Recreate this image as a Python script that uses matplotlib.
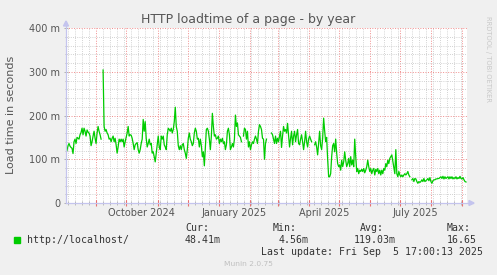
import numpy as np
import matplotlib
matplotlib.use('Agg')
import matplotlib.pyplot as plt
import matplotlib.dates as mdates
from matplotlib.ticker import MultipleLocator, FixedLocator
from matplotlib.lines import Line2D
from matplotlib.patches import Polygon, Rectangle
from datetime import datetime, timedelta

W, H = 497, 275

title = 'HTTP loadtime of a page - by year'
ylabel = 'Load time in seconds'
series_name = 'http://localhost/'
start = datetime(2024, 8, 1, 17, 0, 13)
end = datetime(2025, 9, 5, 17, 0, 13)

# load time samples in milliseconds, one per day; each segment starts at a day offset
seg1_start = 1
seg1 = [120, 131, 136, 130, 127, 125, 113, 140, 146, 136,
        150, 148, 146, 156, 161, 171, 156, 171, 164, 153,
        167, 162, 160, 153, 131, 140, 153, 164, 148, 136,
        160, 175, 164, 156, 146]
seg2_start = 37
seg2 = [304, 175, 164, 168, 160, 156, 146, 148, 140, 148,
        153, 140, 148, 133, 114, 128, 146, 140, 146, 140,
        146, 128, 140, 150, 160, 175, 153, 156, 155, 148,
        136, 122, 133, 136, 138, 122, 114, 122, 136, 146,
        191, 164, 186, 148, 128, 136, 146, 133, 136, 114,
        117, 106, 94, 114, 136, 153, 128, 122, 153, 146,
        153, 133, 128, 122, 156, 171, 168, 164, 171, 160,
        168, 186, 219, 175, 164, 131, 122, 131, 122, 133,
        136, 122, 114, 102, 122, 148, 160, 146, 140, 131,
        136, 160, 171, 164, 146, 148, 128, 146, 131, 106,
        117, 85, 128, 168, 171, 164, 146, 122, 153, 205,
        175, 153, 156, 146, 148, 153, 136, 146, 140, 148,
        136, 140, 122, 133, 164, 171, 156, 122, 128, 136,
        128, 146, 201, 175, 183, 156, 153, 150, 140]
seg3_start = 177
seg3 = [153, 171, 168, 146, 164, 128, 140, 122, 133, 140,
        136, 146, 153, 146, 136, 164, 179, 175, 168, 148,
        146, 100, 136, 146]
seg4_start = 205
seg4 = [160, 156, 146, 136, 153, 136, 148, 140, 153, 164,
        127, 153, 175, 164, 168, 160, 182, 156, 128, 148,
        164, 133, 153, 164, 140, 156, 168, 136, 133, 146,
        156, 140, 122, 140, 164, 140, 128, 146, 153, 146, 140]
seg5_start = 248
seg5 = [133, 140, 128, 110, 136, 164, 131, 122, 148, 194,
        165, 140, 150, 100, 60, 60, 67, 106, 131, 136,
        117, 146, 114, 90, 83, 87, 75, 98, 83, 94,
        117, 98, 83, 90, 102, 83, 106, 87, 98, 83,
        146, 106, 72, 79, 67, 75, 72, 77, 72, 79,
        69, 75, 83, 98, 83, 72, 79, 67, 75, 79,
        64, 77, 72, 79, 67, 75, 64, 75, 67, 79,
        75, 90, 83, 98, 90, 102, 106, 110, 96, 83,
        67, 122, 67, 60, 72, 64, 60, 64, 60, 64,
        67, 64, 67, 72, 64, 60]
seg6_start = 345
seg6 = [53, 56, 49, 56, 55, 49, 45, 49, 47, 49,
        53, 49, 56, 49, 51, 53, 56, 51, 58, 49,
        45, 51, 53, 53, 55, 55, 56, 56, 58, 60,
        56, 61, 55, 60, 56, 58, 60, 55, 60, 56,
        60, 55, 58, 56, 60, 55, 58, 56, 61, 56,
        55, 58, 53, 49, 48]

segments = [(seg1_start, seg1), (seg2_start, seg2), (seg3_start, seg3),
            (seg4_start, seg4), (seg5_start, seg5), (seg6_start, seg6)]

y_ticks = [0, 100, 200, 300, 400]
y_tick_labels = ['0', '100 m', '200 m', '300 m', '400 m']
x_label_dates = [datetime(2024, 10, 16), datetime(2025, 1, 16),
                 datetime(2025, 4, 16), datetime(2025, 7, 16)]
x_labels = ['October 2024', 'January 2025', 'April 2025', 'July 2025']

legend_headers = ['Cur:', 'Min:', 'Avg:', 'Max:']
legend_values = ['48.41m', '4.56m', '119.03m', '16.65']
last_update = 'Last update: Fri Sep  5 17:00:13 2025'
footer = 'Munin 2.0.75'
side_text = 'RRDTOOL / TOBI OETIKER'

# ---- build daily series with gaps ----
n_days = 400
vals = np.full(n_days, np.nan)
for s, seg in segments:
    vals[s:s + len(seg)] = seg
dates = [start + timedelta(days=int(d)) for d in range(n_days)]

GREEN = '#00cc00'
TXT = '#555555'
MONO = 'DejaVu Sans Mono'

fig = plt.figure(figsize=(W / 100, H / 100), dpi=100, facecolor='#f0f0f0')
L, R, T, B = 66, 467, 28, 203
ax = fig.add_axes([L / W, 1 - B / H, (R - L) / W, (B - T) / H])
ax.set_facecolor('white')

ax.plot(dates, vals, color=GREEN, lw=0.9, zorder=5)
ax.set_xlim(start, end)
ax.set_ylim(0, 400)

for sp in ax.spines.values():
    sp.set_visible(False)

ax.xaxis.set_major_locator(mdates.MonthLocator())
ax.xaxis.set_minor_locator(mdates.WeekdayLocator(byweekday=mdates.SU))
ax.xaxis.set_major_formatter(plt.NullFormatter())
ax.yaxis.set_major_locator(FixedLocator(y_ticks))
ax.set_yticklabels(y_tick_labels)
ax.yaxis.set_minor_locator(MultipleLocator(20))

RED = '#f08c8c'
GRAY = '#c4c4c4'
ax.grid(True, which='major', color=RED, lw=0.7, linestyle=(0, (1, 1.6)), zorder=1)
ax.grid(True, which='minor', color=GRAY, lw=0.6, linestyle=(0, (1, 1.6)), zorder=0)
ax.set_axisbelow(True)

ax.tick_params(axis='x', which='major', direction='inout', length=4, width=0.8,
               color='#e87070')
ax.tick_params(axis='x', which='minor', direction='inout', length=3, width=0.6,
               color='#b0b0b0')
ax.tick_params(axis='y', which='major', direction='inout', length=3, width=0.7,
               color='#b0b0b0', labelsize=7, labelcolor=TXT, pad=2.8)
ax.tick_params(axis='y', which='minor', direction='inout', length=2, width=0.6,
               color='#b0b0b0')

for d, lab in zip(x_label_dates, x_labels):
    ax.text(d, -9.7 / (B - T), lab, transform=ax.get_xaxis_transform(),
            ha='center', va='center', fontsize=7, color=TXT)

def fx(px):
    return px / W

def fy(py):
    return 1 - py / H

# axis lines with arrows
AX = '#c4c4ee'
fig.add_artist(Line2D([fx(L), fx(473)], [fy(B), fy(B)], color=AX, lw=0.9))
fig.add_artist(Line2D([fx(L), fx(L)], [fy(B), fy(22)], color=AX, lw=0.9))
fig.add_artist(Polygon([[fx(469), fy(200.5)], [fx(474), fy(B)], [fx(469), fy(205.5)]],
                       closed=True, color=AX, transform=fig.transFigure))
fig.add_artist(Polygon([[fx(63.5), fy(26)], [fx(L), fy(21)], [fx(68.5), fy(26)]],
                       closed=True, color=AX, transform=fig.transFigure))

fig.text(fx(248), fy(19.3), title, ha='center', va='center', fontsize=9, color=TXT)
fig.text(fx(11), fy(115), ylabel, ha='center', va='center', rotation=90,
         fontsize=8, color=TXT)
fig.text(fx(488), fy(58.5), side_text, ha='center', va='center', rotation=270,
         fontsize=4.9, color='#c8c8c8')

# legend
fig.add_artist(Rectangle((fx(14), fy(242.5)), 6 / W, 6 / H, color=GREEN,
                         transform=fig.transFigure))
fig.text(fx(26.7), fy(240), series_name, ha='left', va='center', fontsize=7.1,
         family=MONO, color='#333333')
hdr_x = [185.7, 272.7, 360.0, 446.7]
val_right = [221.0, 308.3, 396.0, 476.7]
for hx, h in zip(hdr_x, legend_headers):
    fig.text(fx(hx), fy(227.7), h, ha='left', va='center', fontsize=7.1,
             family=MONO, color='#333333')
for vx, v in zip(val_right, legend_values):
    fig.text(fx(vx), fy(240), v, ha='right', va='center', fontsize=7.1,
             family=MONO, color='#333333')
fig.text(fx(482.7), fy(251.7), last_update, ha='right', va='center', fontsize=7.1,
         family=MONO, color='#333333')
fig.text(fx(248), fy(264), footer, ha='center', va='center', fontsize=5.4,
         color='#c0c0c0')

fig.savefig('out.png', dpi=100, facecolor=fig.get_facecolor())
